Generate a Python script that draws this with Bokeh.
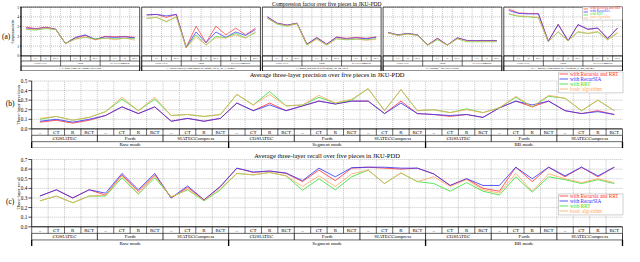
import numpy as np
from bokeh.plotting import figure
from bokeh.layouts import column
from bokeh.models import Range1d, Legend, LegendItem, BoxAnnotation
from bokeh.embed import file_html
from bokeh.resources import INLINE
from bokeh.core.properties import value

FONT = "Liberation Serif"

# ---------------- categories ----------------
variants = ["–", "CT", "R", "RCT"]
algorithms = ["COSIATEC", "Forth", "SIATECCompress"]
modes = ["Raw mode", "Segment mode", "BB mode"]
pieces = ["J. S. Bach, Fugue in A minor, BWV 889",
          "L. van Beethoven, Piano Sonata in F minor, Op. 2, No. 1, 3rd mvt.",
          "F. Chopin, Mazurka in B-flat minor, Op. 24, No. 4",
          "O. Gibbons, \u201cThe Silver Swan\u201d",
          "W. A. Mozart, Piano Sonata in E-flat major, K. 282, 2nd mvt."]
series_names = ["with Recursia and RRT", "with RecurSIA", "with RRT", "basic algorithm"]
series_colors = ["#ff3030", "#3030ff", "#30e030", "#ffa860"]

cf_ticks = [0, 1, 2, 3, 4, 5]
prec_ticks = [0.0, 0.1, 0.2, 0.3, 0.4, 0.5]
rec_ticks = [0.0, 0.1, 0.2, 0.3, 0.4, 0.5, 0.6, 0.7]

# ---------------- (a) compression factor, one list of 12 per piece ----------------
cf_recursia_rrt = [
    [2.95, 2.8, 2.95, 2.75, 1.28, 1.85, 2.1, 1.65, 2.0, 1.95, 2.0, 1.9],
    [4.2, 4.25, 3.95, 4.25, 0.87, 3.05, 1.35, 3.05, 2.15, 2.85, 2.15, 2.85],
    [4.0, 3.35, 3.15, 3.35, 1.2, 1.9, 1.2, 1.95, 1.8, 1.9, 1.8, 1.95],
    [2.4, 2.15, 2.3, 2.15, 1.12, 1.8, 1.12, 1.85, 1.57, 1.57, 1.57, 1.57],
    [4.8, 4.4, 4.35, 4.35, 1.5, 3.25, 1.55, 3.2, 2.7, 2.85, 1.75, 2.85]]
cf_recursia = [
    [2.85, 2.75, 2.9, 2.75, 1.25, 1.9, 2.15, 1.7, 1.95, 1.9, 1.95, 1.85],
    [4.2, 4.25, 4.1, 4.25, 0.87, 2.45, 1.35, 2.45, 1.9, 2.45, 2.1, 2.7],
    [4.0, 3.35, 3.15, 3.35, 1.2, 1.85, 1.2, 1.9, 1.75, 1.85, 1.75, 1.9],
    [2.4, 2.15, 2.3, 2.15, 1.12, 1.8, 1.12, 1.85, 1.57, 1.57, 1.57, 1.57],
    [4.65, 4.35, 4.3, 4.3, 1.5, 3.2, 1.55, 3.2, 2.75, 2.85, 1.8, 2.85]]
cf_rrt = [
    [2.7, 2.65, 2.8, 2.7, 1.28, 1.75, 1.9, 1.75, 1.8, 1.75, 1.8, 1.75],
    [3.85, 3.95, 3.5, 4.0, 0.87, 2.15, 1.1, 2.0, 1.85, 2.3, 1.85, 2.4],
    [3.85, 3.25, 3.05, 3.3, 1.1, 1.75, 1.1, 1.75, 1.65, 1.7, 1.65, 1.75],
    [2.35, 2.1, 2.25, 2.1, 1.1, 1.65, 1.1, 1.75, 1.45, 1.45, 1.45, 1.45],
    [4.3, 4.05, 4.0, 3.9, 1.45, 2.45, 1.55, 2.45, 2.3, 2.45, 1.65, 2.35]]
cf_basic = [
    [2.75, 2.7, 2.85, 2.7, 1.28, 1.7, 1.95, 1.65, 1.85, 1.65, 1.85, 1.6],
    [3.85, 3.95, 3.55, 4.0, 0.85, 1.9, 1.15, 1.85, 1.85, 2.15, 1.8, 2.5],
    [3.85, 3.3, 3.1, 3.3, 1.15, 1.7, 1.15, 1.75, 1.7, 1.75, 1.6, 1.7],
    [2.35, 2.1, 2.25, 2.1, 1.1, 1.7, 1.1, 1.75, 1.5, 1.5, 1.5, 1.5],
    [4.35, 4.1, 4.05, 3.95, 1.45, 2.5, 1.55, 2.5, 2.3, 2.5, 1.65, 2.4]]

# ---------------- (b) precision ----------------
prec_recursia_rrt = [0.07, 0.09, 0.06, 0.09, 0.14, 0.23, 0.16, 0.23, 0.08, 0.11, 0.08, 0.11,
                     0.27, 0.19, 0.27, 0.19, 0.24, 0.29, 0.26, 0.29, 0.29, 0.16, 0.29, 0.16,
                     0.15, 0.13, 0.15, 0.12, 0.22, 0.29, 0.23, 0.29, 0.19, 0.16, 0.19, 0.15]
prec_recursia = [0.08, 0.10, 0.07, 0.10, 0.14, 0.23, 0.16, 0.23, 0.08, 0.11, 0.08, 0.11,
                 0.27, 0.19, 0.25, 0.19, 0.24, 0.29, 0.26, 0.29, 0.29, 0.16, 0.27, 0.16,
                 0.15, 0.14, 0.15, 0.12, 0.22, 0.29, 0.25, 0.29, 0.19, 0.16, 0.18, 0.15]
prec_rrt = [0.10, 0.13, 0.09, 0.12, 0.18, 0.31, 0.19, 0.31, 0.14, 0.15, 0.13, 0.15,
            0.36, 0.25, 0.39, 0.24, 0.25, 0.33, 0.27, 0.30, 0.42, 0.19, 0.41, 0.19,
            0.20, 0.17, 0.21, 0.17, 0.22, 0.33, 0.23, 0.34, 0.32, 0.19, 0.30, 0.19]
prec_basic = [0.11, 0.13, 0.09, 0.12, 0.18, 0.33, 0.19, 0.33, 0.14, 0.15, 0.13, 0.15,
              0.36, 0.25, 0.36, 0.24, 0.25, 0.35, 0.27, 0.31, 0.42, 0.19, 0.41, 0.19,
              0.20, 0.17, 0.20, 0.17, 0.22, 0.34, 0.23, 0.35, 0.32, 0.19, 0.30, 0.19]

# ---------------- (c) recall ----------------
rec_recursia_rrt = [0.32, 0.385, 0.30, 0.385, 0.33, 0.54, 0.37, 0.54, 0.30, 0.41, 0.28, 0.42,
                    0.61, 0.565, 0.58, 0.555, 0.47, 0.59, 0.48, 0.61, 0.62, 0.61, 0.60, 0.61,
                    0.55, 0.43, 0.50, 0.40, 0.37, 0.62, 0.47, 0.62, 0.52, 0.62, 0.52, 0.62]
rec_recursia = [0.32, 0.385, 0.30, 0.385, 0.35, 0.555, 0.385, 0.555, 0.30, 0.425, 0.28, 0.42,
                0.61, 0.57, 0.58, 0.56, 0.48, 0.61, 0.52, 0.615, 0.62, 0.62, 0.61, 0.61,
                0.55, 0.43, 0.50, 0.43, 0.43, 0.62, 0.50, 0.62, 0.53, 0.62, 0.53, 0.62]
rec_rrt = [0.27, 0.32, 0.25, 0.32, 0.32, 0.51, 0.34, 0.51, 0.31, 0.385, 0.27, 0.385,
           0.555, 0.54, 0.565, 0.53, 0.38, 0.50, 0.385, 0.52, 0.59, 0.45, 0.56, 0.47,
           0.45, 0.37, 0.46, 0.37, 0.33, 0.52, 0.36, 0.52, 0.49, 0.45, 0.49, 0.45]
rec_basic = [0.27, 0.32, 0.25, 0.32, 0.33, 0.53, 0.345, 0.53, 0.31, 0.39, 0.275, 0.40,
             0.555, 0.54, 0.565, 0.53, 0.42, 0.53, 0.42, 0.55, 0.59, 0.45, 0.56, 0.47,
             0.52, 0.42, 0.49, 0.385, 0.35, 0.555, 0.37, 0.55, 0.50, 0.46, 0.50, 0.46]

cf_series = [cf_recursia_rrt, cf_recursia, cf_rrt, cf_basic]
prec_series = [prec_recursia_rrt, prec_recursia, prec_rrt, prec_basic]
rec_series = [rec_recursia_rrt, rec_recursia, rec_rrt, rec_basic]

W = 624
GRID = "#9a9a9a"


def lin_range(p0, v0, p1, v1, total, flip=False):
    """range whose value v0 sits at pixel p0 and v1 at pixel p1 (pixels from left/top)"""
    k = (v1 - v0) / (p1 - p0)
    a = v0 + (0 - p0) * k
    b = v0 + (total - p0) * k
    return (b, a) if flip else (a, b)


def make_fig(height, xr, yr):
    p = figure(width=W, height=height, x_range=Range1d(*xr), y_range=Range1d(*yr),
               output_backend="svg", toolbar_location=None, x_axis_location=None,
               y_axis_location=None, min_border=0)
    p.xgrid.visible = False
    p.ygrid.visible = False
    p.outline_line_color = None
    return p


def draw_yaxis(p, ticks, fmt, label, tick_fs, label_fs, lab_x, tick_len, axlab_x, top):
    p.segment(x0=0, x1=0, y0=ticks[0], y1=top, line_color="black", line_width=0.8)
    p.segment(x0=-tick_len, x1=0, y0=ticks, y1=ticks, line_color="black", line_width=0.7)
    p.text(x=lab_x, y=ticks, text=[fmt % t for t in ticks], text_font=value(FONT),
           text_font_size=tick_fs, text_align="right", text_baseline="middle",
           text_color="black")
    p.text(x=[axlab_x], y=[(ticks[0] + ticks[-1]) / 2.0], text=[label], angle=np.pi / 2,
           text_font=value(FONT), text_font_size=label_fs, text_align="center",
           text_baseline="middle", text_color="black")


def draw_grid(p, x_start, n_cells, ticks):
    xs = x_start + np.arange(1, n_cells)
    p.segment(x0=xs, x1=xs, y0=0, y1=ticks[-1], line_color=GRID, line_width=0.6,
              line_dash="1 1")
    ys = np.array([t for t in ticks if t > 0])
    p.segment(x0=x_start, x1=x_start + n_cells, y0=ys, y1=ys, line_color=GRID,
              line_width=0.6, line_dash="1 1")


def draw_table(p, x_start, rows, row_h, fs, widths):
    """rows: list of (labels, span) from top to bottom"""
    n_total = len(rows[0][0]) * rows[0][1]
    hy = [-(r + 1) * row_h for r in range(len(rows))]
    p.segment(x0=x_start, x1=x_start + n_total, y0=[0] + hy, y1=[0] + hy,
              line_color="black", line_width=[1.0] + [0.6] * len(hy))
    for r, (labels, span) in enumerate(rows):
        y_top, y_bot = -r * row_h, -(r + 1) * row_h
        bx = x_start + np.arange(len(labels) + 1) * span
        p.segment(x0=bx, x1=bx, y0=y_top, y1=y_bot, line_color="black",
                  line_width=widths[r])
        cx = x_start + np.arange(len(labels)) * span + span / 2.0
        p.text(x=cx, y=(y_top + y_bot) / 2.0, text=labels, text_font=value(FONT),
               text_font_size=fs, text_align="center", text_baseline="middle",
               text_color="black")


def add_legend(p, renderers, xr, yr, H, left, top, width, item_h, glyph_w, fs):
    x0, x1 = xr
    y0, y1 = yr
    dx = lambda s: x0 + s / W * (x1 - x0)
    dy = lambda s: y0 + s / H * (y1 - y0)
    n = len(renderers)
    box = BoxAnnotation(left=dx(left), right=dx(left + width),
                        bottom=dy(top - n * item_h - 1.0), top=dy(top),
                        fill_color="white", fill_alpha=1.0, line_color="black",
                        line_width=0.6)
    p.add_layout(box)
    for k, r in enumerate(renderers):
        leg = Legend(items=[LegendItem(label=series_names[k], renderers=[r])],
                     location=(left + 1, top - 0.5 - (k + 1) * item_h),
                     padding=0, margin=0, spacing=0, glyph_height=int(item_h),
                     glyph_width=glyph_w, label_height=int(item_h), label_standoff=2,
                     label_text_font=FONT, label_text_font_size=fs,
                     label_text_color=series_colors[k], border_line_alpha=0,
                     background_fill_alpha=0)
        p.add_layout(leg)


def add_text(p, x, y, text, fs):
    p.text(x=[x], y=[y], text=[text], text_font=value(FONT), text_font_size=fs,
           text_align="center", text_baseline="middle", text_color="black")


# ======================= (a) =======================
gap = 0.2
n_cell_a = len(variants) * len(algorithms)
xa_max = len(pieces) * n_cell_a + (len(pieces) - 1) * gap
A_H = 71
xra = lin_range(20.5, 0, 622, xa_max, W)
yra = lin_range(6.6, cf_ticks[-1], 55.4, 0, A_H, flip=True)
a_rowh = 0.52
pA = make_fig(A_H, xra, yra)
starts = [k * (n_cell_a + gap) for k in range(len(pieces))]
for k, s in enumerate(starts):
    draw_grid(pA, s, n_cell_a, cf_ticks)
    draw_table(pA, s, [(variants * len(algorithms), 1), (algorithms, len(variants)),
                       ([pieces[k]], n_cell_a)], a_rowh, "2.6px", [0.5, 0.6, 0.8])
pA.quad(left=starts, right=[s + n_cell_a for s in starts], bottom=-3 * a_rowh,
        top=cf_ticks[-1], fill_alpha=0, line_color="black", line_width=0.7)
draw_yaxis(pA, cf_ticks, "%d", "Compression factor", "3.6px", "3px", -0.2, 0.12, -0.8,
           cf_ticks[-1])
rend_a = []
for si in range(4):
    xs = [list(s + np.arange(n_cell_a) + 0.5) for s in starts]
    r = pA.multi_line(xs=xs, ys=cf_series[si], line_color=series_colors[si],
                      line_width=0.9, line_alpha=0.8)
    rend_a.append(r)
add_legend(pA, rend_a, xra, yra, A_H, 582, 64.4, 40, 3, 5, "3.3px")
add_text(pA, 30.9, 5.29, "Compression factor over five pieces in JKU-PDD", "5.5px")
add_text(pA, -1.5, 2.0, "(a)", "7.5px")

# ======================= (b) and (c) =======================
n_cells = len(modes) * len(algorithms) * len(variants)
xc = np.arange(n_cells) + 0.5
table_rows = [(variants * len(algorithms) * len(modes), 1),
              (algorithms * len(modes), len(variants)),
              (modes, len(variants) * len(algorithms))]
xr_bc = lin_range(31.2, 0, 622, n_cells, W)


def make_metric(H, top_px, zero_px, ymin, ticks, series, ylabel, title, tag, tag_y,
                leg_top, title_px):
    yr = lin_range(top_px, ticks[-1], zero_px, 0, H, flip=True)
    p = make_fig(H, xr_bc, yr)
    draw_grid(p, 0, n_cells, ticks)
    draw_table(p, 0, table_rows, -ymin / 3.0, "5px", [0.6, 0.8, 1.3])
    draw_yaxis(p, ticks, "%.1f", ylabel, "5.2px", "4.6px", -0.27, 0.2, -0.8, ticks[-1])
    rends = []
    for si in range(4):
        r = p.line(x=xc, y=series[si], line_color=series_colors[si], line_width=1.0,
                   line_alpha=0.8)
        rends.append(r)
    add_legend(p, rends, xr_bc, yr, H, 558, leg_top, 64.5, 5, 9, "5.2px")
    ty = yr[1] - title_px / H * (yr[1] - yr[0])
    add_text(p, n_cells / 2.0, ty, title, "6.5px")
    add_text(p, -1.31, tag_y, tag, "7.5px")
    return p


pB = make_metric(77, 9.5, 57.4, -0.2, prec_ticks, prec_series, "Three-layer precision",
                 "Average three-layer precision over five pieces in JKU-PDD", "(b)", 0.26,
                 76.6, 3.2)
pC = make_metric(98, 11, 78.3, -0.205, rec_ticks, rec_series, "Three-layer recall",
                 "Average three-layer recall over five pieces in JKU-PDD", "(c)", 0.265,
                 52.6, 7.0)

layout = column(pA, pB, pC, spacing=0)
open("out.html", "w").write(file_html(layout, INLINE))
